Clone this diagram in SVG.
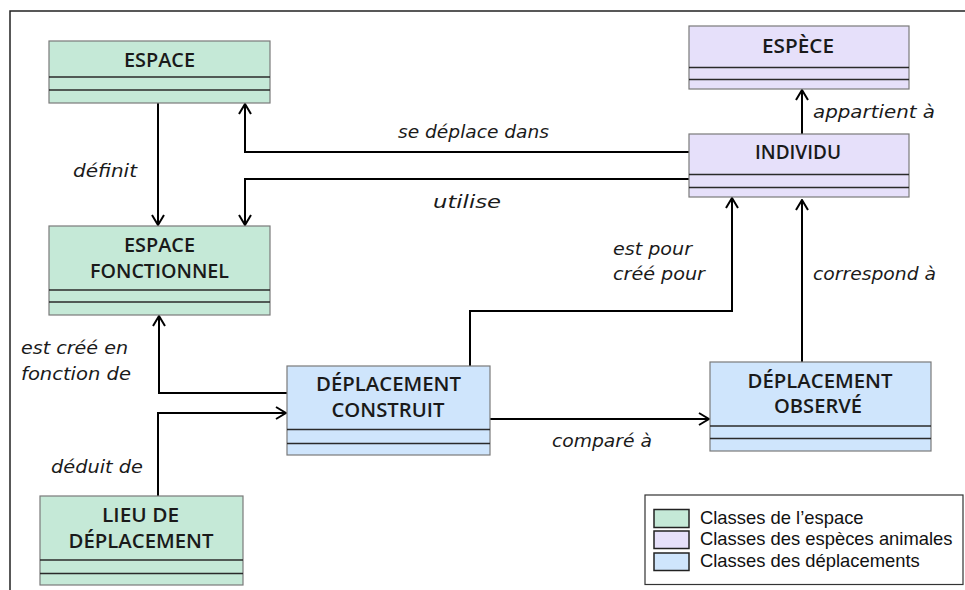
<svg xmlns="http://www.w3.org/2000/svg" width="965" height="590" viewBox="0 0 965 590">
<style>
.box{stroke:#7a7a7a;stroke-width:1.2}
.g{fill:#c5e9d7}.p{fill:#e6e0fa}.b{fill:#cfe5fc}
.sep{stroke:#2a2a2a;stroke-width:1.5}
.t{font-family:"Open Sans","DejaVu Sans",sans-serif;font-weight:600;font-size:19px;fill:#1a1a1a;text-anchor:middle}
.lab{font-family:"DejaVu Sans",sans-serif;font-style:italic;font-size:17px;fill:#1a1a1a}
.con{fill:none;stroke:#000;stroke-width:2}
.leg{font-family:"Liberation Sans",Arial,sans-serif;font-size:18.4px;fill:#111}
.sw{stroke:#222;stroke-width:1.5}
</style>
<defs>
<marker id="arr" viewBox="0 0 12 14" refX="11" refY="7" markerWidth="12" markerHeight="14" markerUnits="userSpaceOnUse" orient="auto">
<path d="M1,1 L11,7 L1,13" fill="none" stroke="#000" stroke-width="2"/>
</marker>
</defs>
<rect width="965" height="590" fill="#fff"/>
<path d="M10,590 L10,11 L965,11" fill="none" stroke="#222" stroke-width="1.5"/>

<g id="connectors">
<path class="con" d="M158,103 L158,225" marker-end="url(#arr)"/>
<path class="con" d="M689,152 L245,152 L245,104" marker-end="url(#arr)"/>
<path class="con" d="M689,179 L245,179 L245,225" marker-end="url(#arr)"/>
<path class="con" d="M802,134 L802,90" marker-end="url(#arr)"/>
<path class="con" d="M287,393 L159,393 L159,316" marker-end="url(#arr)"/>
<path class="con" d="M158,496 L158,413 L286,413" marker-end="url(#arr)"/>
<path class="con" d="M470,366 L470,311 L732,311 L732,198" marker-end="url(#arr)"/>
<path class="con" d="M802,362 L802,200" marker-end="url(#arr)"/>
<path class="con" d="M490,419 L709,419" marker-end="url(#arr)"/>
<text class="lab" x="73" y="177" textLength="64" lengthAdjust="spacingAndGlyphs">définit</text>
<text class="lab" x="398" y="138" textLength="151" lengthAdjust="spacingAndGlyphs">se déplace dans</text>
<text class="lab" x="433" y="208" textLength="68" lengthAdjust="spacingAndGlyphs">utilise</text>
<text class="lab" x="813" y="118" textLength="122" lengthAdjust="spacingAndGlyphs">appartient à</text>
<text class="lab" x="613" y="255" textLength="79" lengthAdjust="spacingAndGlyphs">est pour</text>
<text class="lab" x="613" y="280" textLength="92" lengthAdjust="spacingAndGlyphs">créé pour</text>
<text class="lab" x="813" y="280" textLength="123" lengthAdjust="spacingAndGlyphs">correspond à</text>
<text class="lab" x="552" y="447" textLength="100" lengthAdjust="spacingAndGlyphs">comparé à</text>
<text class="lab" x="21" y="354" textLength="107" lengthAdjust="spacingAndGlyphs">est créé en</text>
<text class="lab" x="21" y="380" textLength="110" lengthAdjust="spacingAndGlyphs">fonction de</text>
<text class="lab" x="51" y="473" textLength="92" lengthAdjust="spacingAndGlyphs">déduit de</text>
</g>

<g id="espace">
<rect class="box g" x="49" y="41" width="221" height="62"/>
<line class="sep" x1="49" y1="77" x2="270" y2="77"/>
<line class="sep" x1="49" y1="90" x2="270" y2="90"/>
<text class="t" x="159.5" y="66.5" textLength="71" lengthAdjust="spacingAndGlyphs">ESPACE</text>
</g>

<g id="espace-fonctionnel">
<rect class="box g" x="49" y="226" width="221" height="89"/>
<line class="sep" x1="49" y1="290" x2="270" y2="290"/>
<line class="sep" x1="49" y1="302" x2="270" y2="302"/>
<text class="t" x="159.5" y="251.5" textLength="71" lengthAdjust="spacingAndGlyphs">ESPACE</text>
<text class="t" x="159.5" y="277.5" textLength="139" lengthAdjust="spacingAndGlyphs">FONCTIONNEL</text>
</g>

<g id="espece">
<rect class="box p" x="689" y="26" width="220" height="63"/>
<line class="sep" x1="689" y1="67.5" x2="909" y2="67.5"/>
<line class="sep" x1="689" y1="79.5" x2="909" y2="79.5"/>
<text class="t" x="798" y="52.5" textLength="72" lengthAdjust="spacingAndGlyphs">ESPÈCE</text>
</g>

<g id="individu">
<rect class="box p" x="689" y="134" width="220" height="63"/>
<line class="sep" x1="689" y1="174.5" x2="909" y2="174.5"/>
<line class="sep" x1="689" y1="187.5" x2="909" y2="187.5"/>
<text class="t" x="798" y="158.5" textLength="86" lengthAdjust="spacingAndGlyphs">INDIVIDU</text>
</g>

<g id="deplacement-construit">
<rect class="box b" x="287" y="366" width="203" height="89"/>
<line class="sep" x1="287" y1="429.5" x2="490" y2="429.5"/>
<line class="sep" x1="287" y1="443.5" x2="490" y2="443.5"/>
<text class="t" x="388.5" y="390.5" textLength="145" lengthAdjust="spacingAndGlyphs">DÉPLACEMENT</text>
<text class="t" x="388" y="416.5" textLength="113" lengthAdjust="spacingAndGlyphs">CONSTRUIT</text>
</g>

<g id="deplacement-observe">
<rect class="box b" x="710" y="362" width="221" height="89"/>
<line class="sep" x1="710" y1="426" x2="931" y2="426"/>
<line class="sep" x1="710" y1="438.5" x2="931" y2="438.5"/>
<text class="t" x="820" y="387.5" textLength="145" lengthAdjust="spacingAndGlyphs">DÉPLACEMENT</text>
<text class="t" x="818" y="412.5" textLength="88" lengthAdjust="spacingAndGlyphs">OBSERVÉ</text>
</g>

<g id="lieu-de-deplacement">
<rect class="box g" x="40" y="496" width="203" height="89"/>
<line class="sep" x1="40" y1="560" x2="243" y2="560"/>
<line class="sep" x1="40" y1="573.5" x2="243" y2="573.5"/>
<text class="t" x="140.5" y="521.5" textLength="77" lengthAdjust="spacingAndGlyphs">LIEU DE</text>
<text class="t" x="141" y="547.5" textLength="145" lengthAdjust="spacingAndGlyphs">DÉPLACEMENT</text>
</g>

<g id="legend">
<rect x="645" y="495" width="318" height="89.5" fill="#fff" stroke="#333" stroke-width="1.2"/>
<rect class="sw g" x="654" y="509.5" width="35" height="18"/>
<rect class="sw p" x="654" y="531" width="35" height="17.5"/>
<rect class="sw b" x="654" y="553" width="35" height="17.5"/>
<text class="leg" x="700" y="523.5">Classes de l’espace</text>
<text class="leg" x="700" y="545">Classes des espèces animales</text>
<text class="leg" x="700" y="566.5">Classes des déplacements</text>
</g>
</svg>
